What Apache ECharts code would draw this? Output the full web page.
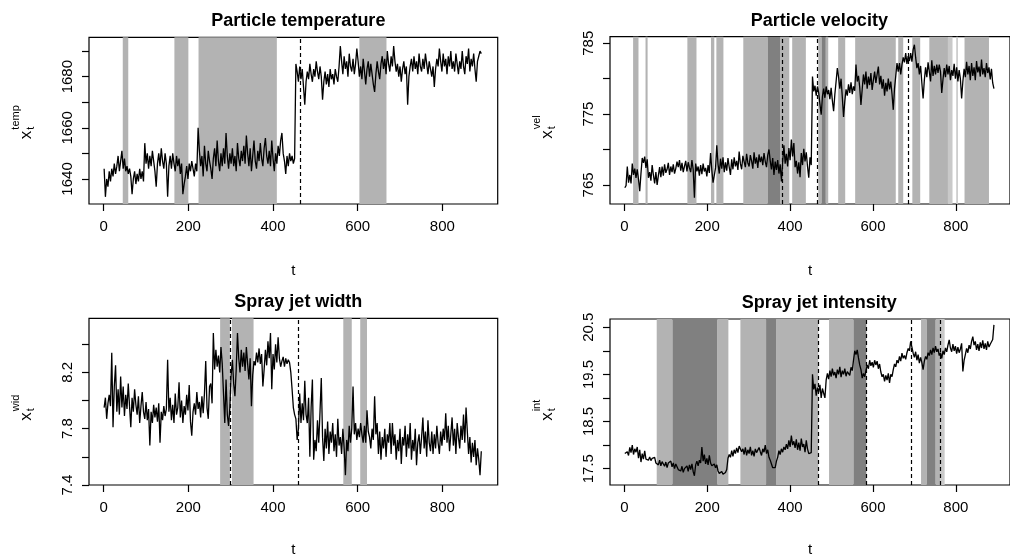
<!DOCTYPE html>
<html><head><meta charset="utf-8">
<script src="https://cdn.jsdelivr.net/npm/echarts@6/dist/echarts.min.js"></script>
<style>html,body{margin:0;padding:0;background:#fff}#c{width:1010px;height:558px}</style>
</head><body><div id="c"></div>
<script>
// ---------- data ----------
const titles = ['Particle temperature', 'Particle velocity', 'Spray jet width', 'Spray jet intensity'];
const ySup = ['temp', 'vel', 'wid', 'int'];
const xTickVals = [0, 200, 400, 600, 800];
const tStart = 1, tStep = 3;   // time index of each reading

const tempTicks = [1640, 1650, 1660, 1670, 1680, 1690];
const tempLabels = [1640, 1660, 1680];
const velTicks = [765, 770, 775, 780, 785];
const velLabels = [765, 775, 785];
const widTicks = [7.4, 7.6, 7.8, 8.0, 8.2, 8.4];
const widLabels = [7.4, 7.8, 8.2];
const intTicks = [17.5, 18.0, 18.5, 19.0, 19.5, 20.0, 20.5];
const intLabels = [17.5, 18.5, 19.5, 20.5];

const temp = [
1644,1633,1640,1637,1643,1639,1644,1641,1646,1642,
1645,1649,1643,1647,1651,1644,1648,1643,1645,1642,
1644,1641,1634,1640,1643,1638,1642,1639,1644,1640,
1643,1639,1654,1646,1650,1644,1649,1645,1651,1647,
1643,1637,1646,1650,1645,1652,1647,1644,1650,1646,
1633,1645,1649,1644,1650,1646,1643,1649,1645,1648,
1642,1646,1634,1638,1641,1645,1640,1646,1643,1647,
1644,1641,1646,1643,1660,1651,1645,1649,1641,1653,
1646,1643,1651,1647,1644,1640,1648,1652,1645,1655,
1647,1643,1650,1645,1652,1646,1658,1649,1644,1650,
1646,1652,1645,1649,1643,1654,1648,1645,1651,1647,
1653,1646,1657,1650,1645,1652,1643,1649,1655,1647,
1644,1651,1647,1654,1648,1645,1652,1656,1649,1646,
1651,1645,1655,1648,1643,1650,1646,1653,1649,1655,
1658,1650,1647,1642,1649,1645,1650,1647,1649,1646,
1648,1685,1682,1678,1684,1679,1683,1676,1669,1678,
1682,1679,1685,1681,1678,1683,1680,1686,1682,1679,
1684,1680,1671,1678,1682,1677,1681,1676,1683,1679,
1681,1677,1683,1680,1678,1684,1692,1686,1681,1688,
1683,1686,1680,1689,1684,1682,1687,1681,1685,1691,
1686,1680,1684,1679,1687,1682,1677,1683,1686,1680,
1685,1681,1677,1674,1681,1686,1682,1679,1685,1688,
1683,1687,1681,1690,1685,1682,1688,1684,1692,1686,
1682,1685,1680,1684,1678,1683,1686,1681,1684,1669,
1680,1684,1687,1682,1688,1683,1686,1681,1689,1684,
1682,1687,1683,1689,1685,1681,1686,1683,1680,1684,
1676,1683,1687,1684,1691,1686,1682,1689,1684,1687,
1681,1688,1684,1690,1683,1686,1682,1689,1685,1681,
1686,1683,1690,1684,1681,1688,1685,1691,1682,1687,
1684,1689,1683,1678,1686,1688,1690,1689];

const vel = [
764.6,764.9,767.6,765.3,766.4,765.2,768.0,766.4,767.3,766.0,
767.2,765.8,764.1,766.6,768.8,768.1,769.0,767.4,768.6,766.0,
766.8,765.6,767.8,766.4,765.2,766.8,765.0,766.3,767.5,766.1,
767.6,766.3,767.9,766.7,767.2,768.1,766.4,767.6,766.8,767.9,
766.6,767.3,768.3,767.5,768.5,767.0,768.1,766.8,767.6,768.4,
766.9,768.2,767.4,766.8,768.5,767.2,763.2,768.0,766.9,767.6,
766.3,767.8,766.5,768.0,766.9,767.4,766.2,767.8,766.7,769.5,
767.1,765.3,765.5,767.4,770.6,767.9,766.6,768.7,767.3,768.9,
766.8,768.2,767.0,768.8,767.5,766.4,768.6,767.2,768.9,767.6,
768.4,767.1,769.7,768.0,767.2,769.1,768.3,767.5,769.4,768.1,
767.6,769.2,768.4,767.3,769.6,768.0,768.9,767.4,769.3,768.2,
769.0,767.8,769.5,768.3,767.5,769.2,770.0,768.4,767.2,768.8,
766.4,768.3,767.1,768.5,766.6,767.9,765.5,768.2,770.6,768.0,
769.4,767.6,770.2,768.5,771.4,769.0,770.9,767.5,768.4,766.6,
768.2,766.1,769.5,767.8,770.1,768.3,769.6,767.6,766.0,768.9,
767.8,780.3,778.2,779.0,777.6,778.9,778.0,776.4,774.9,777.5,
778.6,777.3,778.9,777.8,778.4,777.1,778.7,776.9,775.4,777.8,
779.6,781.5,780.2,778.6,780.0,777.4,774.6,776.8,778.5,777.6,
779.2,778.0,779.5,777.8,778.9,778.3,782.0,779.6,780.4,778.8,
776.3,778.5,780.6,779.2,781.0,778.6,780.3,779.1,780.8,778.4,
779.8,781.0,779.4,780.6,781.7,779.2,780.4,778.6,779.9,777.6,
779.4,778.2,780.0,778.5,779.6,777.8,775.6,778.6,780.4,782.2,
781.0,782.2,780.6,782.0,783.0,782.3,783.6,782.1,783.2,782.5,
783.6,782.4,784.1,784.8,783.0,781.5,782.2,780.6,781.8,779.4,
777.2,779.8,781.6,780.2,782.3,781.0,779.6,782.6,780.4,781.8,
780.6,782.0,780.8,782.0,781.0,778.0,779.9,781.5,780.2,782.0,
780.6,781.8,779.8,781.2,780.4,782.1,780.0,781.6,779.6,781.2,
780.0,777.2,779.6,781.4,780.2,782.4,780.6,781.8,779.8,782.2,
780.4,781.6,779.8,782.5,780.9,781.7,780.3,782.7,780.6,781.5,
780.2,782.2,780.8,781.6,779.9,781.4,779.4,778.6];

const wid = [
7.95,8.02,7.87,7.98,8.04,7.96,8.34,7.81,8.10,8.25,
7.92,8.08,7.90,8.17,7.95,8.10,7.89,8.04,7.94,8.12,
7.96,7.81,8.02,7.92,8.08,7.97,7.90,8.03,7.84,7.96,
8.06,7.92,7.87,7.99,7.86,7.94,7.68,7.92,7.84,7.97,
7.88,7.95,7.85,7.98,7.70,7.92,7.86,7.96,7.89,7.94,
8.29,7.92,8.02,7.86,7.97,7.84,8.05,7.90,7.95,8.13,
7.88,8.00,7.84,7.96,7.90,8.04,7.93,8.11,7.85,7.75,
7.92,7.98,7.90,8.06,7.94,7.99,7.88,8.03,7.91,8.05,
8.28,7.95,7.87,8.10,8.12,7.98,8.48,8.22,8.36,8.24,
8.32,8.20,8.38,8.26,8.05,7.84,8.15,7.90,7.82,7.95,
8.18,8.29,8.12,8.03,8.22,8.48,8.30,8.20,8.36,8.24,
8.34,8.21,8.38,8.26,8.15,8.30,7.96,8.18,8.28,8.25,
8.34,8.27,8.37,8.26,8.33,8.10,8.22,8.36,8.25,8.42,
8.30,8.48,8.08,8.33,8.22,8.40,8.27,8.45,8.30,8.24,
8.28,8.31,8.24,8.30,8.26,8.29,8.27,8.20,8.08,7.95,
7.90,7.87,7.72,7.80,8.05,7.84,7.98,7.86,8.14,7.90,
7.84,8.02,7.60,7.95,8.15,7.58,7.72,7.64,7.86,7.70,
7.92,8.16,7.74,7.57,7.80,7.66,7.85,7.62,7.78,7.70,
7.84,7.64,7.76,7.60,7.87,7.68,7.74,7.62,7.80,7.66,
7.47,7.72,7.64,7.82,7.70,7.80,8.10,7.76,7.84,7.72,
7.80,7.74,7.84,7.76,7.70,7.82,7.70,7.93,7.78,7.74,
7.66,7.80,7.72,8.03,7.76,7.84,7.62,7.78,7.58,7.74,
7.66,7.80,7.60,7.76,7.70,7.84,7.62,7.84,7.68,7.76,
7.58,7.72,7.64,7.80,7.55,7.74,7.68,7.82,7.60,7.76,
7.66,7.84,7.58,7.72,7.64,7.80,7.54,7.70,7.76,7.62,
7.74,7.88,7.66,7.78,7.60,7.86,7.70,7.64,7.78,7.62,
7.76,7.66,7.82,7.70,7.62,7.78,7.68,7.80,7.72,7.91,
7.70,7.82,7.64,7.76,7.88,7.68,7.80,7.62,7.84,7.74,
7.66,7.82,7.72,7.90,7.70,7.95,7.78,7.62,7.74,7.56,
7.70,7.60,7.72,7.54,7.66,7.58,7.47,7.64];

const inten = [
17.82,17.80,17.86,17.78,17.95,17.84,18.00,17.80,17.92,17.85,
17.96,17.72,17.90,17.64,17.82,17.70,17.88,17.70,17.74,17.68,
17.75,17.67,17.72,17.68,17.74,17.62,17.66,17.58,17.68,17.56,
17.65,17.60,17.55,17.64,17.52,17.62,17.58,17.66,17.54,17.62,
17.50,17.60,17.56,17.48,17.52,17.45,17.55,17.42,17.50,17.46,
17.56,17.44,17.58,17.48,17.60,17.44,17.35,17.58,17.66,17.56,
17.68,17.62,17.96,17.66,17.80,17.60,17.72,17.58,17.78,17.62,
17.56,17.55,17.60,17.52,17.58,17.45,17.40,17.36,17.44,17.38,
17.35,17.42,17.48,17.72,17.80,17.74,17.88,17.76,17.90,17.82,
17.94,17.84,17.98,18.00,17.86,17.92,17.80,17.95,17.78,17.90,
17.82,17.96,17.78,17.88,17.76,17.92,17.84,17.80,17.95,17.86,
17.78,17.92,17.85,18.00,17.82,17.90,17.74,17.68,17.60,17.52,
17.55,17.52,17.66,17.74,17.88,17.80,17.92,17.85,17.96,17.90,
18.02,17.92,18.10,17.96,18.20,18.00,18.08,17.94,18.12,17.90,
18.05,17.88,18.14,17.96,18.02,17.85,18.10,17.92,17.82,17.86,
17.84,19.50,19.18,19.30,19.05,19.22,19.12,19.28,19.00,19.20,
19.10,19.00,19.38,19.52,19.40,19.58,19.45,19.62,19.48,19.55,
19.42,19.60,19.50,19.66,19.44,19.58,19.50,19.62,19.46,19.56,
19.60,19.48,19.65,19.58,19.80,20.00,19.92,20.02,19.85,19.70,
19.60,19.42,19.52,19.45,19.58,19.70,19.62,19.80,19.68,19.76,
19.65,19.80,19.70,19.78,19.62,19.72,19.55,19.45,19.50,19.35,
19.48,19.38,19.52,19.32,19.50,19.45,19.60,19.72,19.66,19.80,
19.74,19.88,19.78,19.95,19.84,19.90,19.82,19.96,20.05,20.00,
20.20,20.08,19.95,19.86,19.98,19.80,19.92,19.74,19.86,19.75,
19.60,19.78,19.88,19.82,19.96,19.90,20.02,19.92,20.06,19.96,
20.10,19.98,20.04,19.90,19.96,19.84,20.00,19.92,20.06,19.98,
20.12,20.23,20.06,19.98,20.14,20.00,20.10,19.94,20.08,19.96,
20.04,20.16,19.56,19.80,19.92,20.05,19.96,20.12,20.04,20.20,
20.30,20.12,20.20,20.02,20.14,20.00,20.18,20.06,20.22,20.04,
20.16,20.02,20.20,20.08,20.14,20.10,20.24,20.55];

// shaded time intervals (light grey / dark grey / pale grey) and dashed change points
const tempLight = [[45,58],[167,200],[224,409],[604,668]];
const tempDark = [];
const tempPale = [];
const tempCuts = [465];

const velLight = [[21,34],[51,56],[152,174],[209,217],[222,239],[287,346],[376,398],[405,438],
                  [468,476],[486,492],[516,533],[557,655],[661,673],[695,714],[736,781],[821,880]];
const velDark = [[346,376],[476,486]];
const velPale = [[781,792],[801,805]];
const velCuts = [380, 466, 684.5];

const widLight = [[275,298],[303,354],[566,586],[606,622]];
const widDark = [];
const widPale = [];
const widCuts = [298.6, 460.7];

const intLight = [[78,116],[224,251],[280,342],[366,468],[494,553],[716,730],[751,762]];
const intDark = [[116,224],[342,366],[553,584],[730,751]];
const intPale = [[762,773]];
const intCuts = [468.5, 584.4, 693, 763];

// ---------- layout ----------
const FONT = 'Liberation Sans, Arial, Helvetica, sans-serif';
const panels = [
  {vals: temp, ticks: tempTicks, labels: tempLabels, ymin: 1630.2, ymax: 1695.4, light: tempLight, dark: tempDark, pale: tempPale, cuts: tempCuts, left: 89, top: 37.3, height: 166.7},
  {vals: vel, ticks: velTicks, labels: velLabels, ymin: 762.3, ymax: 785.93, light: velLight, dark: velDark, pale: velPale, cuts: velCuts, left: 610, top: 36.7, height: 167.3},
  {vals: wid, ticks: widTicks, labels: widLabels, ymin: 7.4, ymax: 8.584, light: widLight, dark: widDark, pale: widPale, cuts: widCuts, left: 89, top: 318.3, height: 167.7},
  {vals: inten, ticks: intTicks, labels: intLabels, ymin: 17.153, ymax: 20.675, light: intLight, dark: intDark, pale: intPale, cuts: intCuts, left: 610, top: 319, height: 166.7}
];
const XMIN = -34.76, XMAX = 930.76, PLOTW = 408.7;

const grid = [], xAxis = [], yAxis = [], series = [], title = [], graphic = [];
panels.forEach((p, k) => {
  grid.push({left: p.left, top: p.top, width: PLOTW, height: p.height, show: true,
    borderColor: '#000', borderWidth: 1.2, backgroundColor: 'transparent', containLabel: false});
  xAxis.push({type: 'value', gridIndex: k, min: XMIN, max: XMAX, position: 'bottom',
    axisLine: {show: false, onZero: false}, splitLine: {show: false},
    axisTick: {show: true, inside: false, length: 7, lineStyle: {color: '#000', width: 1.2}, customValues: xTickVals},
    axisLabel: {show: true, margin: 15, color: '#000', fontSize: 15, fontFamily: FONT, customValues: xTickVals},
    name: 't', nameLocation: 'middle', nameGap: k < 2 ? 59 : 57,
    nameTextStyle: {color: '#000', fontSize: 15, fontFamily: FONT}});
  yAxis.push({type: 'value', gridIndex: k, min: p.ymin, max: p.ymax, position: 'left',
    axisLine: {show: false, onZero: false}, splitLine: {show: false},
    axisTick: {show: true, inside: false, length: 7, lineStyle: {color: '#000', width: 1.2}, customValues: p.ticks},
    axisLabel: {show: true, rotate: 90, margin: 14, color: '#000', fontSize: 15, fontFamily: FONT,
      customValues: p.labels, formatter: v => String(v)}});
  const areas = [];
  p.light.forEach(r => areas.push([{xAxis: r[0], itemStyle: {color: '#B3B3B3'}}, {xAxis: r[1]}]));
  p.pale.forEach(r => areas.push([{xAxis: r[0], itemStyle: {color: '#C9C9C9'}}, {xAxis: r[1]}]));
  p.dark.forEach(r => areas.push([{xAxis: r[0], itemStyle: {color: '#808080'}}, {xAxis: r[1]}]));
  series.push({type: 'line', xAxisIndex: k, yAxisIndex: k, data: [], z: 1, silent: true,
    markArea: {silent: true, itemStyle: {opacity: 1}, data: areas}});
  series.push({type: 'line', xAxisIndex: k, yAxisIndex: k, z: 3, silent: true,
    data: p.vals.map((v, i) => [tStart + i * tStep, v]),
    showSymbol: false, symbol: 'none', lineStyle: {color: '#000', width: 1.3},
    markLine: {silent: true, symbol: 'none', label: {show: false},
      lineStyle: {color: '#000', type: [4, 3], width: 1.2},
      data: p.cuts.map(c => ({xAxis: c}))}});
  const cx = p.left + PLOTW / 2;
  title.push({text: titles[k], left: cx, top: p.top - 30, textAlign: 'center',
    textStyle: {fontSize: 18, fontWeight: 'bold', color: '#000', fontFamily: FONT}});
  const gx = p.left - 63, gy = p.top + p.height / 2 + 10;
  graphic.push({type: 'group', x: gx, y: gy, rotation: Math.PI / 2, children: [
    {type: 'text', x: 0, y: 0, style: {text: 'x', fill: '#000', font: '17px ' + FONT, align: 'right', verticalAlign: 'middle'}},
    {type: 'text', x: 1, y: 5, style: {text: 't', fill: '#000', font: '11px ' + FONT, align: 'left', verticalAlign: 'middle'}},
    {type: 'text', x: 1, y: -10, style: {text: ySup[k], fill: '#000', font: '11px ' + FONT, align: 'left', verticalAlign: 'middle'}}
  ]});
});

const chart = echarts.init(document.getElementById('c'), null, {renderer: 'canvas'});
chart.setOption({animation: false, backgroundColor: '#fff', title, grid, xAxis, yAxis, series, graphic});
</script></body></html>
